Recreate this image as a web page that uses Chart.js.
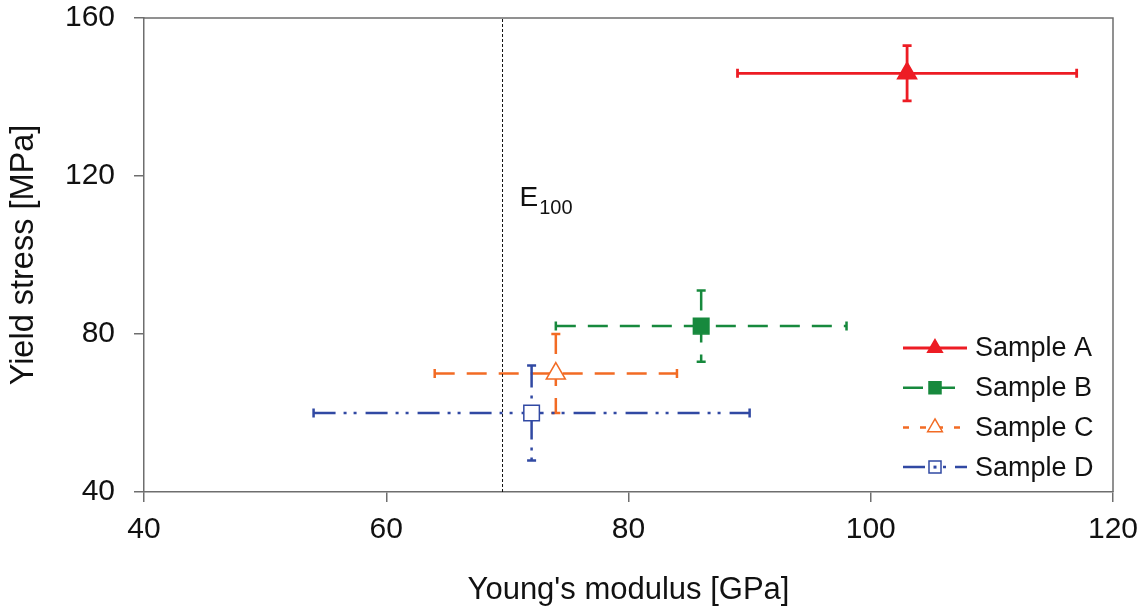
<!DOCTYPE html>
<html><head><meta charset="utf-8">
<script src="https://cdn.jsdelivr.net/npm/chart.js@4.4.0/dist/chart.umd.min.js"></script>
<style>html,body{margin:0;padding:0;background:#fff;}#wrap{width:1146px;height:615px;}</style>
</head><body><div id="wrap"><canvas id="c" width="1146" height="615"></canvas></div>
<script>
// ---- data ----
const samples = ['Sample A', 'Sample B', 'Sample C', 'Sample D'];
const modulus = [103, 86, 74, 72];
const modulusLow = [89, 74, 64, 54];
const modulusHigh = [117, 98, 84, 90];
const stress = [146, 82, 70, 60];
const stressLow = [139, 73, 60, 48];
const stressHigh = [153, 91, 80, 72];
const xTicks = [40, 60, 80, 100, 120];
const yTicks = [40, 80, 120, 160];
const eLine = [69.6];
const eLabel = 'E';
const eSub = '100';
const eLabelY = 112.3;

// ---- styles ----
const colors = ['#ED1C24', '#17893D', '#F26B24', '#3149A3'];
const dashes = [[], [20, 12], [20, 12], [22, 8, 3, 7, 3, 9]];
const legendDashes = [[], [20, 12], [6, 11], [22, 8, 3, 7, 3, 9]];
const widths = [2.8, 2.5, 2.5, 2.5];
const pStyles = ['triangle', 'rect', 'triangle', 'rect'];
const pFill = [true, true, false, false];
const FONT = '"Liberation Sans", Arial, Helvetica, sans-serif';
const AXIS = '#6e6e6e';

const datasets = samples.map((s, i) => ({
  label: s,
  data: [{x: modulus[i], y: stress[i]}],
  showLine: false,
  pointStyle: pStyles[i],
  pointRadius: 11,
  pointHoverRadius: 11,
  pointBorderWidth: 1.5,
  borderColor: colors[i],
  pointBorderColor: colors[i],
  pointBackgroundColor: pFill[i] ? colors[i] : '#ffffff',
  backgroundColor: pFill[i] ? colors[i] : '#ffffff',
  clip: false,
  order: 1
}));
datasets.push({
  label: 'E100',
  data: [{x: eLine[0], y: yTicks[0]}, {x: eLine[0], y: yTicks[yTicks.length - 1]}],
  showLine: true,
  borderColor: '#111',
  borderWidth: 1,
  borderDash: [3, 2],
  pointRadius: 0,
  order: 5
});

const errorBars = {
  id: 'errorBars',
  beforeDatasetsDraw(chart) {
    const {ctx, scales: {x, y}} = chart;
    samples.forEach((s, i) => {
      const cx = x.getPixelForValue(modulus[i]);
      const cy = y.getPixelForValue(stress[i]);
      const xl = x.getPixelForValue(modulusLow[i]);
      const xh = x.getPixelForValue(modulusHigh[i]);
      const yl = y.getPixelForValue(stressLow[i]);
      const yh = y.getPixelForValue(stressHigh[i]);
      ctx.save();
      ctx.strokeStyle = colors[i];
      ctx.lineWidth = widths[i];
      ctx.lineCap = 'butt';
      ctx.setLineDash(dashes[i]);
      ctx.beginPath(); ctx.moveTo(xl, cy); ctx.lineTo(xh, cy); ctx.stroke();
      ctx.beginPath(); ctx.moveTo(cx, yh); ctx.lineTo(cx, yl); ctx.stroke();
      ctx.setLineDash([]);
      const c = 4.5;
      ctx.beginPath();
      ctx.moveTo(xl, cy - c); ctx.lineTo(xl, cy + c);
      ctx.moveTo(xh, cy - c); ctx.lineTo(xh, cy + c);
      ctx.moveTo(cx - c, yh); ctx.lineTo(cx + c, yh);
      ctx.moveTo(cx - c, yl); ctx.lineTo(cx + c, yl);
      ctx.stroke();
      ctx.restore();
    });
  },
  afterDraw(chart) {
    const {ctx, chartArea: a, scales: {x, y}} = chart;
    ctx.save();
    // frame top & right
    ctx.strokeStyle = AXIS; ctx.lineWidth = 1.5;
    ctx.beginPath();
    ctx.moveTo(a.left, a.top); ctx.lineTo(a.right, a.top); ctx.lineTo(a.right, a.bottom);
    ctx.stroke();
    // E100 label
    const ex = x.getPixelForValue(eLine[0]) + 17;
    const ey = y.getPixelForValue(eLabelY);
    ctx.fillStyle = '#111';
    ctx.textBaseline = 'alphabetic';
    ctx.textAlign = 'left';
    ctx.font = '28px ' + FONT;
    ctx.fillText(eLabel, ex, ey);
    const w = ctx.measureText(eLabel).width;
    ctx.font = '20px ' + FONT;
    ctx.fillText(eSub, ex + w + 1, ey + 8);
    // legend
    const lx0 = a.right - 210, lx1 = a.right - 146, tx = a.right - 138;
    const ly0 = a.bottom - 144, step = 39.7;
    samples.forEach((s, i) => {
      const ly = ly0 + i * step;
      ctx.strokeStyle = colors[i];
      ctx.lineWidth = widths[i];
      ctx.setLineDash(legendDashes[i]);
      ctx.beginPath(); ctx.moveTo(lx0, ly); ctx.lineTo(lx1, ly); ctx.stroke();
      ctx.setLineDash([]);
      ctx.fillStyle = pFill[i] ? colors[i] : '#fff';
      ctx.lineWidth = 1.5;
      Chart.helpers.drawPoint(ctx, {pointStyle: pStyles[i], radius: 8.5, borderWidth: 1.5}, (lx0 + lx1) / 2, ly);
      if (i === 3) { ctx.fillStyle = colors[i]; ctx.fillRect((lx0 + lx1) / 2 - 1.5, ly - 1.5, 3, 3); }
      ctx.fillStyle = '#111';
      ctx.font = '27px ' + FONT;
      ctx.textBaseline = 'middle';
      ctx.fillText(s, tx, ly + 1);
    });
    ctx.restore();
  }
};

new Chart(document.getElementById('c'), {
  type: 'scatter',
  data: {datasets},
  options: {
    responsive: false,
    animation: false,
    devicePixelRatio: 1,
    layout: {padding: {top: 18, right: 33, left: 0, bottom: 0}},
    plugins: {legend: {display: false}, tooltip: {enabled: false}},
    scales: {
      x: {
        type: 'linear', min: xTicks[0], max: xTicks[xTicks.length - 1],
        afterBuildTicks: s => { s.ticks = xTicks.map(v => ({value: v})); },
        afterFit: s => { s.height = 123; s.paddingLeft = 0; s.paddingRight = 0; },
        grid: {drawOnChartArea: false, drawTicks: true, tickLength: 10, color: AXIS, lineWidth: 1.5},
        border: {color: AXIS, width: 1.5},
        ticks: {font: {family: FONT, size: 30}, color: '#111', padding: 10, maxRotation: 0},
        title: {display: true, text: "Young's modulus [GPa]", font: {family: FONT, size: 31}, color: '#111', padding: {top: 0, bottom: 6}}
      },
      y: {
        type: 'linear', min: yTicks[0], max: yTicks[yTicks.length - 1],
        afterBuildTicks: s => { s.ticks = yTicks.map(v => ({value: v})); },
        afterFit: s => { s.width = 144; s.paddingTop = 0; s.paddingBottom = 0; },
        grid: {drawOnChartArea: false, drawTicks: true, tickLength: 10, color: AXIS, lineWidth: 1.5},
        border: {color: AXIS, width: 1.5},
        ticks: {font: {family: FONT, size: 30}, color: '#111', padding: 19},
        title: {display: true, text: 'Yield stress [MPa]', font: {family: FONT, size: 32.5}, color: '#111', padding: {top: 5, bottom: 0}}
      }
    }
  },
  plugins: [errorBars]
});
</script></body></html>
